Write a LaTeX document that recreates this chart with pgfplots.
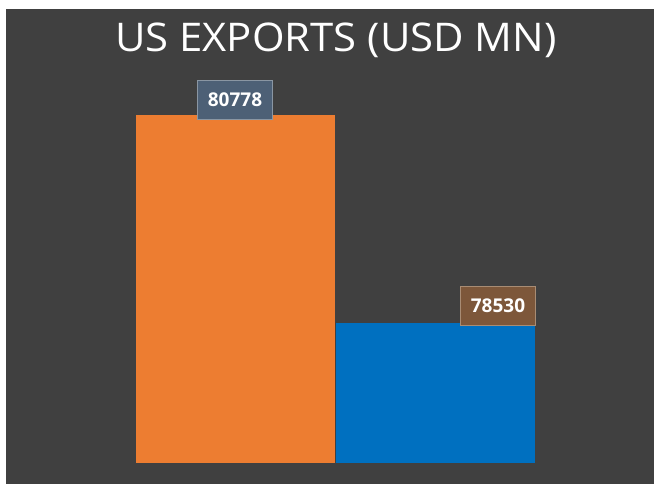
\documentclass[border=0pt]{standalone}
\usepackage{fontspec}
\setmainfont{Open Sans}
\usepackage{pgfplots}
\pgfplotsset{compat=1.18}
\definecolor{bg}{HTML}{404040}
\definecolor{orangebar}{HTML}{ED7D31}
\definecolor{bluebar}{HTML}{0070C0}
\definecolor{lblA}{HTML}{4D6076}
\definecolor{lblAd}{HTML}{8A96A3}
\definecolor{lblB}{HTML}{7D573A}
\definecolor{lblBd}{HTML}{A88C74}
\begin{document}
\begin{tikzpicture}[x=1pt,y=1pt]
\fill[white] (0,0) rectangle (654,484);
\fill[bg] (6,0) rectangle (654,475);
\node[anchor=base,text=white,font=\fontsize{39.5}{42}\selectfont,inner sep=0] at (336,432) {\scalebox{1.06}[1]{US EXPORTS (USD MN)}};
\begin{axis}[
  at={(135pt,21.3pt)}, anchor=south west,
  scale only axis, width=400pt, height=348pt,
  hide axis, clip=false,
  xmin=-0.5, xmax=1.5, ymin=77017, ymax=80778,
  ybar, bar width=199pt,
  point meta=explicit symbolic,
  nodes near coords,
  every node near coord/.append style={anchor=center,text=white,
    font=\bfseries\fontsize{19}{20}\selectfont,minimum width=75pt,minimum height=39pt,inner sep=0pt,line width=1pt},
]
\addplot[bar shift=0pt, fill=orangebar, draw=none,
  every node near coord/.append style={fill=lblA,draw=lblAd,yshift=15pt}]
  coordinates {(0,80778) [80778]};
\addplot[bar shift=0pt, fill=bluebar, draw=none,
  every node near coord/.append style={fill=lblB,draw=lblBd,xshift=63pt,yshift=17pt}]
  coordinates {(1,78530) [78530]};
\end{axis}
\end{tikzpicture}
\end{document}
